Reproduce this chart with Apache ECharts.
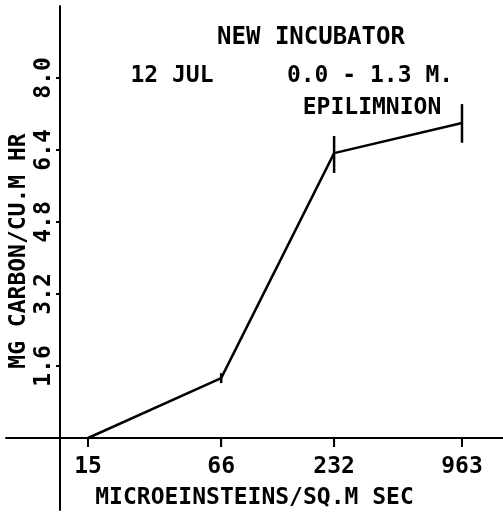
<!DOCTYPE html>
<html>
<head>
<meta charset="utf-8">
<script src="https://cdn.jsdelivr.net/npm/echarts@6/dist/echarts.min.js"></script>
<style>
html,body{margin:0;padding:0;background:#fff;}
#chart{width:503px;height:515px;}
</style>
</head>
<body>
<div id="chart"></div>
<script>
// ---- data ----
const lightLevels = [15, 66, 232, 963];          // microeinsteins / sq.m sec (log-scaled axis)
const carbonRate  = [0.0, 1.33, 6.33, 7.0];       // mg carbon / cu.m hr
const errLow      = [0.0, 1.22, 5.89, 6.56];
const errHigh     = [0.0, 1.44, 6.71, 7.42];
const yTickValues = [1.6, 3.2, 4.8, 6.4, 8.0];
const titleLines  = ['NEW INCUBATOR', '12 JUL', '0.0 - 1.3 M.', 'EPILIMNION'];
const xAxisName   = 'MICROEINSTEINS/SQ.M SEC';
const yAxisName   = 'MG CARBON/CU.M HR';

const FONT = '"DejaVu Sans Mono", monospace';
// x axis is logarithmic: values are placed on a value axis in log10 units
const X_MIN = Math.log10(6.02), X_MAX = Math.log10(1520);
const logX = lightLevels.map(v => Math.log10(v));

const chart = echarts.init(document.getElementById('chart'), null, {renderer: 'canvas'});

const lineData = lightLevels.map((x, i) => [logX[i], carbonRate[i]]);
const errData  = lightLevels.map((x, i) => [logX[i], errLow[i], errHigh[i]]);
const tickData = logX.map(x => [x]);

const txt = {fontFamily: FONT, fontWeight: 'bold', fontSize: 23, color: '#000'};

chart.setOption({
  animation: false,
  backgroundColor: '#fff',
  grid: [
    // full-height grid: carries the visible y axis (extends below zero) and the x tick marks
    {left: 6, right: 0, top: 6, bottom: 5, containLabel: false, outerBoundsMode: 'none'},
    // grid ending at y = 0: carries the data and the visible x axis
    {left: 6, right: 0, top: 6, bottom: 77, containLabel: false, outerBoundsMode: 'none'}
  ],
  xAxis: [
    {gridIndex: 0, type: 'value', min: X_MIN, max: X_MAX, show: false},
    {
      gridIndex: 1, type: 'value', min: X_MIN, max: X_MAX,
      name: xAxisName,
      nameLocation: 'middle',
      nameGap: 49,
      nameMoveOverlap: false,
      nameTextStyle: txt,
      axisLine: {show: true, onZero: true, lineStyle: {color: '#000', width: 2}},
      axisTick: {show: true, inside: false, length: 9, lineStyle: {color: '#000', width: 2}, customValues: logX},
      axisLabel: Object.assign({show: true, customValues: logX, margin: 18,
        formatter: v => String(Math.round(Math.pow(10, v)))}, txt),
      splitLine: {show: false}
    }
  ],
  yAxis: [
    {
      gridIndex: 0,
      type: 'value',
      min: -1.6,
      max: 9.6,
      offset: -54,
      name: yAxisName,
      nameLocation: 'middle',
      nameRotate: 90,
      nameGap: 29,
      nameMoveOverlap: false,
      nameTextStyle: Object.assign({padding: [0, 0, 0, 14]}, txt),
      axisLine: {show: true, onZero: false, lineStyle: {color: '#000', width: 2}},
      axisTick: {show: true, inside: false, length: 4, lineStyle: {color: '#000', width: 2}, customValues: yTickValues},
      axisLabel: Object.assign({show: true, customValues: yTickValues, rotate: 90, margin: 4,
        formatter: v => v.toFixed(1)}, txt),
      splitLine: {show: false}
    },
    {gridIndex: 1, type: 'value', min: 0, max: 9.6, show: false}
  ],
  graphic: [
    {type: 'text', x: 311, y: 38, style: {text: titleLines[0], font: 'bold 24px ' + FONT, fill: '#000', textAlign: 'center', textVerticalAlign: 'middle'}},
    {type: 'text', x: 172, y: 76, style: {text: titleLines[1], font: 'bold 23px ' + FONT, fill: '#000', textAlign: 'center', textVerticalAlign: 'middle'}},
    {type: 'text', x: 370, y: 76, style: {text: titleLines[2], font: 'bold 23px ' + FONT, fill: '#000', textAlign: 'center', textVerticalAlign: 'middle'}},
    {type: 'text', x: 372, y: 108, style: {text: titleLines[3], font: 'bold 23px ' + FONT, fill: '#000', textAlign: 'center', textVerticalAlign: 'middle'}}
  ],
  series: [
    {
      type: 'line',
      xAxisIndex: 1, yAxisIndex: 1,
      data: lineData,
      symbol: 'none',
      clip: false,
      lineStyle: {color: '#000', width: 2.5},
      z: 3
    },
    {
      type: 'custom',
      xAxisIndex: 1, yAxisIndex: 1,
      data: errData,
      clip: false,
      renderItem: function (params, api) {
        const x = api.value(0), lo = api.value(1), hi = api.value(2);
        const p1 = api.coord([x, lo]);
        const p2 = api.coord([x, hi]);
        return {type: 'line', shape: {x1: p1[0], y1: p1[1], x2: p2[0], y2: p2[1]},
          style: {stroke: '#000', lineWidth: 2.5}};
      },
      z: 4
    },
    {
      // x-axis tick marks below the zero line, drawn in the full-height grid
      type: 'custom',
      xAxisIndex: 0, yAxisIndex: 0,
      data: tickData,
      renderItem: function (params, api) {
        const x = api.value(0);
        const a = api.coord([x, 0]);
        const b = api.coord([x, -0.2]);
        return {type: 'line', shape: {x1: a[0], y1: a[1], x2: b[0], y2: b[1]},
          style: {stroke: '#000', lineWidth: 2}};
      },
      z: 4
    }
  ]
});
</script>
</body>
</html>
